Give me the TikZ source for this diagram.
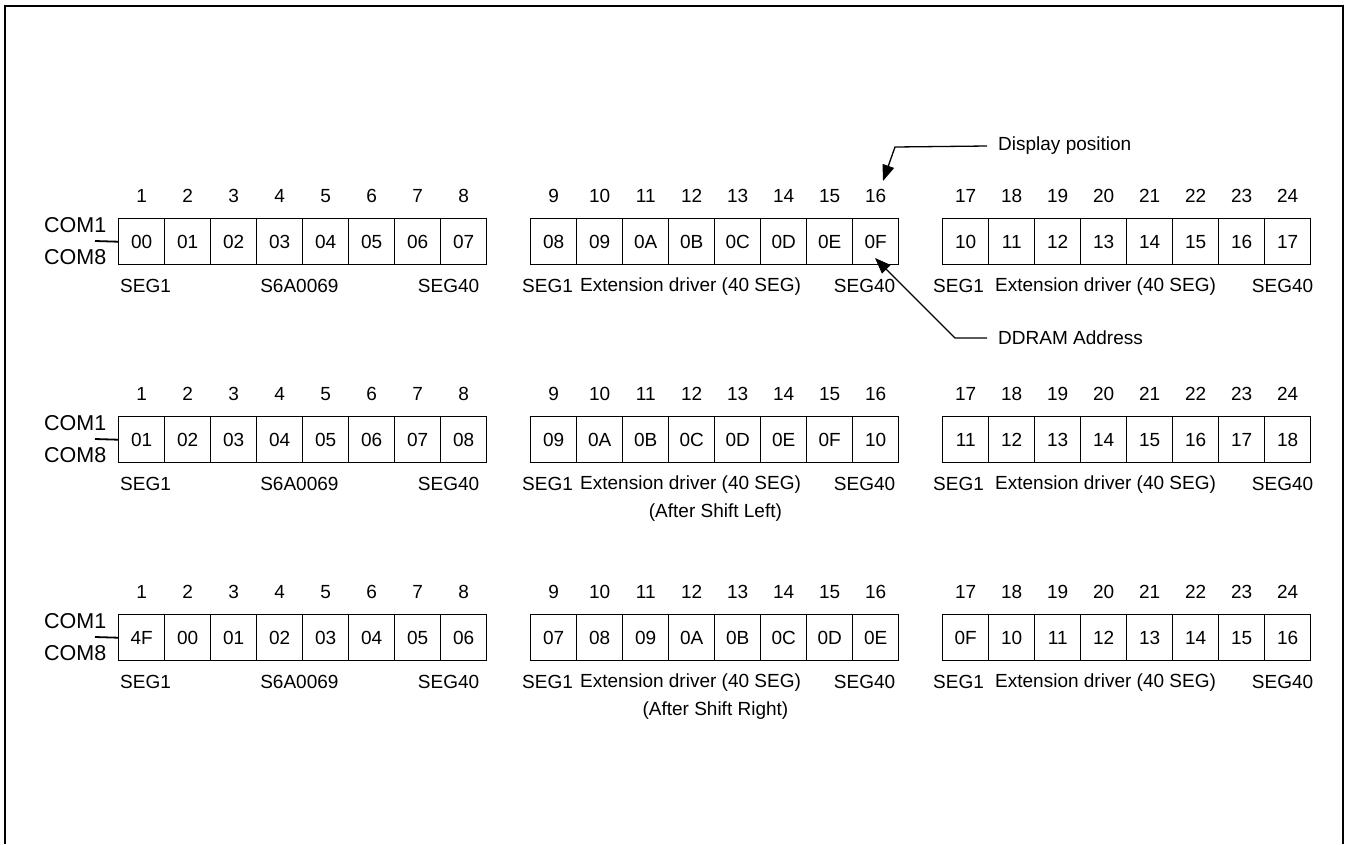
\documentclass[tikz,border=0pt]{standalone}
\usepackage{fontspec}
\setmainfont{Liberation Sans}
\usetikzlibrary{arrows.meta,calc,positioning}

\begin{document}
\begin{tikzpicture}[
    x=1pt, y=-1pt,
    font=\fontsize{19}{22}\selectfont,
    cell/.style    = {draw, line width=1.4pt, minimum width=46pt, minimum height=46pt,
                      inner sep=0pt, anchor=north west},
    lbl/.style     = {inner sep=0pt},
    comlbl/.style  = {inner sep=0pt, anchor=west, font=\fontsize{21.5}{24}\selectfont},
    comtick/.style = {line width=1.8pt},
    pointer/.style = {line width=1.3pt, -{Triangle[length=16pt, width=12pt]}},
    frame/.style   = {line width=2pt}
  ]
\useasboundingbox (0,0) rectangle (1346,844);

% =========================================================
% Outer frame (bottom edge runs off the page)
% =========================================================
\draw[frame] (5,844) -- (5,6) -- (1343,6) -- (1343,844);

% =========================================================
% Three DDRAM rows: original, shift left, shift right
% =========================================================
\foreach \row/\t/\vals in {
    1/218/{00,01,02,03,04,05,06,07,08,09,0A,0B,0C,0D,0E,0F,10,11,12,13,14,15,16,17},
    2/416/{01,02,03,04,05,06,07,08,09,0A,0B,0C,0D,0E,0F,10,11,12,13,14,15,16,17,18},
    3/614/{4F,00,01,02,03,04,05,06,07,08,09,0A,0B,0C,0D,0E,0F,10,11,12,13,14,15,16}}
{
  % cells (8 per driver) and display positions above them
  \foreach \v [count=\k] in \vals {
    \pgfmathsetmacro{\xl}{118+412*int((\k-1)/8)+46*mod(\k-1,8)}
    \node[cell] (c\row-\k) at (\xl,\t) {\v};
    \node[lbl] (n\row-\k) at ($(c\row-\k.north)+(0,-22)$) {\k};
  }

  % COM1 / COM8 lead
  \node[comlbl] (coma\row) at (44,\t+7)  {COM1};
  \node[comlbl] (comb\row) at (44,\t+39) {COM8};
  \coordinate (tick\row) at (95,\t+23);
  \draw[comtick] (tick\row) -- (c\row-1.west);

  % driver labels under each block
  \node[lbl, anchor=west] (sa\row) at ($(c\row-1.south west)+(2,21)$)  {SEG1};
  \node[lbl]              (sb\row) at ($(c\row-4.south east)+(-4,21)$) {S6A0069};
  \node[lbl, anchor=east] (sc\row) at ($(c\row-8.south east)+(-8,21)$) {SEG40};

  \node[lbl, anchor=west] (sd\row) at ($(c\row-9.south west)+(-8,21)$)  {SEG1};
  \node[lbl, anchor=west] (se\row) at ($(c\row-9.south west)+(50,21)$)  {Extension driver (40 SEG)};
  \node[lbl, anchor=east] (sf\row) at ($(c\row-16.south east)+(-4,21)$) {SEG40};

  \node[lbl, anchor=west] (sg\row) at ($(c\row-17.south west)+(-9,21)$) {SEG1};
  \node[lbl, anchor=west] (sh\row) at ($(c\row-17.south west)+(53,21)$) {Extension driver (40 SEG)};
  \node[lbl, anchor=east] (si\row) at ($(c\row-24.south east)+(2,21)$)  {SEG40};
}

% captions of the shifted rows
\node[lbl] (shl) at ($(c2-12.south east)+(0,49)$) {(After Shift Left)};
\node[lbl] (shr) at ($(c3-12.south east)+(0,49)$) {(After Shift Right)};

% =========================================================
% Callouts
% =========================================================
\node[lbl, anchor=west] (disp) at (998,146) {Display position};
\coordinate (dispbend) at (895,147);
\coordinate (disptip)  at (883,181);
\draw[pointer] ([xshift=-11pt]disp.west) -- (dispbend) -- (disptip);

\node[lbl, anchor=west] (ddram) at (998,338) {DDRAM Address};
\coordinate (ddbend) at (955,338);
\coordinate (ddtip)  at (875,258);
\draw[pointer] ([xshift=-11pt]ddram.west) -- (ddbend) -- (ddtip);

\end{tikzpicture}
\end{document}
